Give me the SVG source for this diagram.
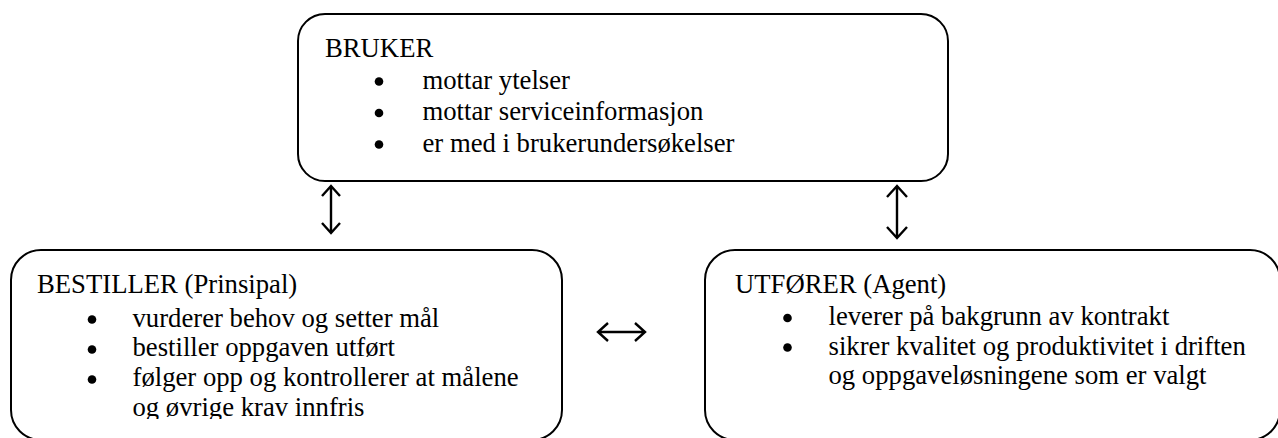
<svg xmlns="http://www.w3.org/2000/svg" width="1278" height="438" viewBox="0 0 1278 438">
<style>
.box{fill:#fff;stroke:#000;stroke-width:2}
.t{font-family:"Liberation Serif",serif;font-size:26.7px;fill:#000}
.dot{fill:#000}
.arr{fill:none;stroke:#000;stroke-width:2.4;stroke-linecap:butt;stroke-linejoin:miter}
</style>
<defs>
<clipPath id="clipL"><rect x="0" y="250" width="600" height="169"/></clipPath>
</defs>
<rect width="1278" height="438" fill="#fff"/>
<g id="bruker">
<rect class="box" x="298" y="14" width="650" height="167" rx="27" ry="27"/>
<g class="t" font-family="Liberation Serif, serif">
<text x="325" y="56.5">BRUKER</text>
<text x="422.5" y="88.5">mottar ytelser</text>
<text x="422.5" y="120">mottar serviceinformasjon</text>
<text x="422.5" y="151.5">er med i brukerundersøkelser</text>
</g>
<circle class="dot" cx="379" cy="81.5" r="4.3"/>
<circle class="dot" cx="379" cy="113" r="4.3"/>
<circle class="dot" cx="379" cy="144.5" r="4.3"/>
</g>
<g id="bestiller">
<rect class="box" x="11" y="250" width="551" height="190" rx="30" ry="30"/>
<g class="t" font-family="Liberation Serif, serif" clip-path="url(#clipL)">
<text x="37" y="293">BESTILLER (Prinsipal)</text>
<text x="132.5" y="326.5">vurderer behov og setter mål</text>
<text x="132.5" y="356">bestiller oppgaven utført</text>
<text x="132.5" y="386">følger opp og kontrollerer at målene</text>
<text x="132.5" y="416">og øvrige krav innfris</text>
</g>
<circle class="dot" cx="92" cy="319.5" r="4.3"/>
<circle class="dot" cx="92" cy="349.5" r="4.3"/>
<circle class="dot" cx="92" cy="379.5" r="4.3"/>
</g>
<g id="utforer">
<rect class="box" x="705" y="250" width="575" height="190" rx="30" ry="30"/>
<g class="t" font-family="Liberation Serif, serif">
<text x="735" y="292.5">UTFØRER (Agent)</text>
<text x="828.5" y="325">leverer på bakgrunn av kontrakt</text>
<text x="828.5" y="354.5">sikrer kvalitet og produktivitet i driften</text>
<text x="828.5" y="383.5">og oppgaveløsningene som er valgt</text>
</g>
<circle class="dot" cx="787.5" cy="318" r="4.3"/>
<circle class="dot" cx="787.5" cy="347.5" r="4.3"/>
</g>
<g id="connectors">
<path class="arr" d="M331 186 V233 M322 196 L331 186 L340 196 M322 223 L331 233 L340 223"/>
<path class="arr" d="M897 186 V238 M887 197 L897 186 L907 197 M887 227 L897 238 L907 227"/>
<path class="arr" d="M598 332 H645 M608 323 L598 332 L608 341 M635 323 L645 332 L635 341"/>
</g>
</svg>
